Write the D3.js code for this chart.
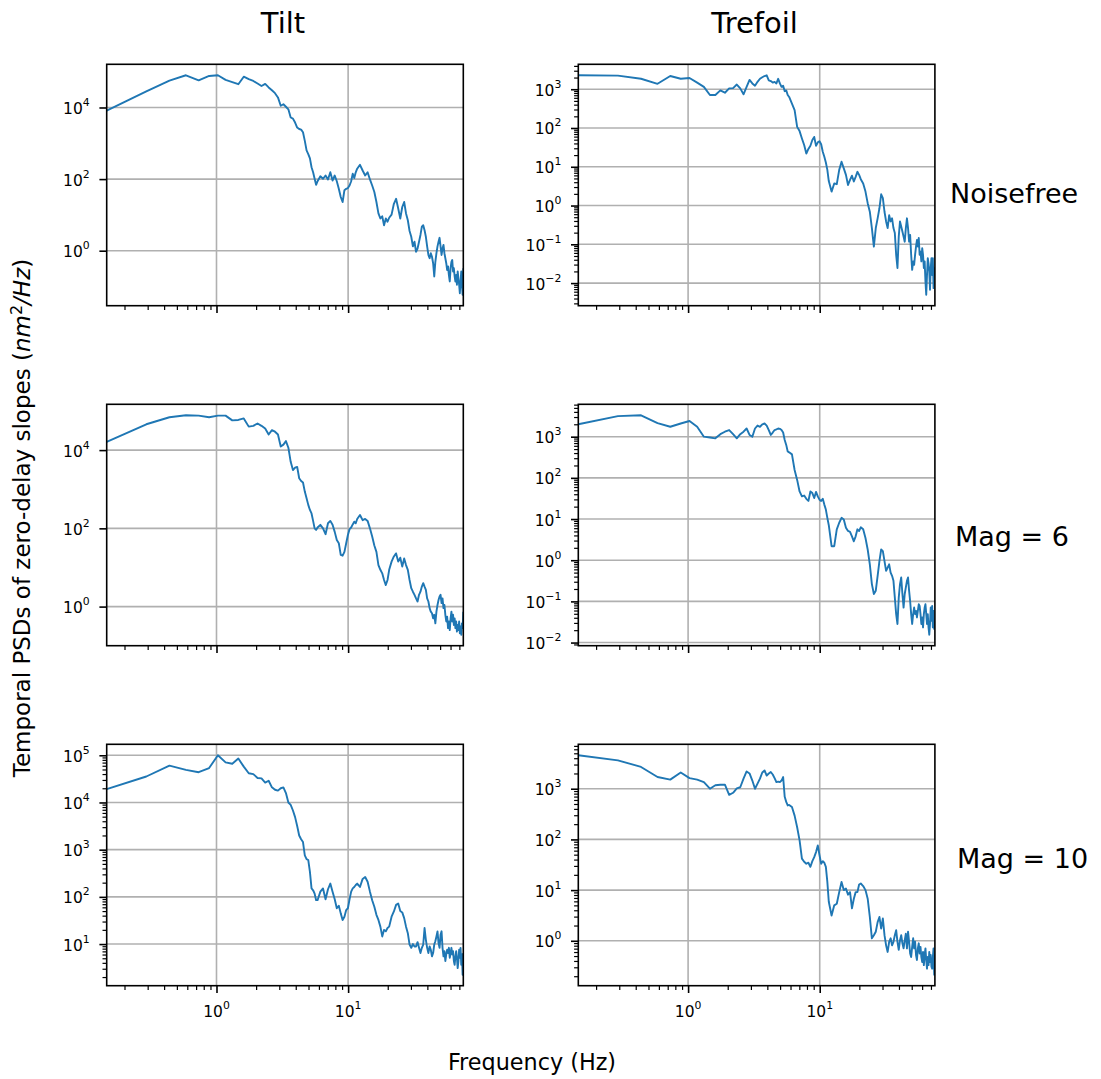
<!DOCTYPE html>
<html><head><meta charset="utf-8">
<script src="https://cdn.jsdelivr.net/npm/d3@7"></script>
<style>
body{margin:0;background:#fff}
svg{display:block}
text{font-family:"DejaVu Sans",sans-serif;fill:#000}
</style>
</head><body>
<svg id="chart" width="1101" height="1079"></svg>
<script>
// ---------------- data ----------------
const freqHz = [
0.1465,0.293,0.439,0.586,0.732,0.879,1.025,1.172,1.318,1.465,
1.611,1.758,1.904,2.051,2.197,2.344,2.490,2.637,2.783,2.930,
3.076,3.223,3.369,3.516,3.662,3.809,3.955,4.102,4.248,4.395,
4.541,4.688,4.834,4.980,5.127,5.273,5.420,5.566,5.713,5.859,
6.152,6.445,6.738,7.031,7.324,7.617,7.910,8.203,8.496,8.789,
9.082,9.375,9.668,9.961,10.254,10.547,10.840,11.133,11.426,11.719,
12.305,12.891,13.477,14.063,14.648,15.234,15.820,16.406,16.992,17.578,18.164,18.750,19.336,19.922,20.508,
21.387,22.266,23.145,24.023,24.902,25.781,26.660,27.539,28.418,29.297,
30.176,31.055,31.934,32.813,33.691,34.570,35.449,36.328,37.207,38.086,
38.965,39.844,40.723,41.602,42.480,43.359,44.238,45.117,45.996,46.875,
47.754,48.633,49.512,50.391,51.270,52.148,53.027,53.906,54.785,55.664,
56.543,57.422,58.301,59.180,60.059,60.938,61.816,62.695,63.574,64.453,
65.332,66.211,67.090,67.969,68.848,69.727,70.605,71.484,72.363,73.242,
74.121,75.0];

const tiltNoisefree = [
8130,28200,56200,79400,57500,75900,79400,58900,51300,44700,
72400,61700,55000,46800,39800,45700,36300,30200,25100,19100,
11200,12300,10500,8910,5250,4900,3800,2750,2510,2400,
2040,1170,631,501,380,214,155,102,69.2,87.1,
120,102,126,97.7,155,91.2,126,87.1,53.7,31.6,
22.9,49.0,53.7,56.2,66.1,87.1,141,107,155,195,
251,174,126,155,97.7,66.1,43.7,22.9,11.0,7.94,9.12,5.13,7.94,6.46,8.32,
10.2,20.4,28.2,15.1,7.94,16.6,22.9,11.0,7.08,3.55,
2.45,1.32,1.78,0.933,1.15,1.78,2.75,4.68,5.13,3.72,
2.45,1.32,0.759,0.617,0.851,0.676,0.447,0.191,0.49,0.851,
1.32,1.78,2.29,1.32,0.759,1.15,1.45,0.851,0.617,0.447,
0.288,0.363,0.209,0.138,0.324,0.49,0.55,0.263,0.324,0.191,
0.138,0.209,0.112,0.263,0.17,0.112,0.0646,0.138,0.263,0.112,
0.0589,0.324];

const trefoilNoisefree = [
2290,2240,1860,1380,2190,1860,1950,1480,1150,708,
708,933,813,1050,1070,1320,1050,741,1150,1740,
1410,1230,1550,1860,2040,2190,2290,1700,1620,1480,
1550,1410,1860,1410,1150,1230,891,933,708,631,
427,288,107,83.2,53.7,36.3,21.9,28.8,34.7,49.0,
58.9,34.7,42.7,45.7,38.0,24.5,18.2,12.9,8.32,4.27,
2.29,3.72,3.55,8.32,13.5,9.12,6.17,3.39,4.57,5.89,4.17,5.5,7.41,6.17,4.79,
3.72,2.29,1.15,0.692,0.263,0.0871,0.263,0.468,0.851,1.95,
1.55,0.692,0.389,0.263,0.562,0.389,0.468,0.263,0.195,0.0537,
0.0245,0.158,0.389,0.288,0.214,0.158,0.117,0.263,0.468,0.263,
0.117,0.174,0.0537,0.0219,0.0363,0.0295,0.0537,0.0871,0.129,0.0871,
0.145,0.0537,0.0646,0.0363,0.0794,0.0537,0.0245,0.0363,0.011,0.00501,
0.0162,0.0437,0.0324,0.02,0.00676,0.0245,0.0437,0.0162,0.0437,0.00741,
0.0245,0.0135];

const tiltMag6 = [
16200,45700,69200,77600,75900,69200,75900,75900,57500,58900,
64600,39800,41700,47900,41700,35500,25100,32400,29500,25100,
12300,13800,17000,11500,5010,3090,3550,3720,1910,1620,
1480,871,589,398,295,240,155,100,91.2,105,
123,100,70.8,135,155,123,81.3,50.1,41.7,20.9,
20.0,25.1,41.7,67.6,95.5,105,126,148,135,174,
219,162,174,155,100,61.7,36.3,25.1,11.5,8.71,7.08,4.79,3.55,4.79,8.71,
14.1,19.1,22.9,14.1,17.8,10.5,17.0,11.5,8.71,4.79,
2.95,2.4,2.0,1.62,1.35,2.0,2.4,3.24,3.98,3.24,
2.69,1.62,1.35,0.912,0.741,0.676,0.501,0.617,0.372,0.741,
1.1,1.48,1.82,2.0,1.23,1.62,0.912,1.1,0.617,0.417,
0.55,0.282,0.417,0.251,0.501,0.741,0.417,0.617,0.339,0.501,
0.282,0.417,0.229,0.339,0.251,0.417,0.209,0.309,0.191,0.372,
0.282,0.741];

const trefoilMag6 = [
2000,3160,3310,2140,1740,2090,2400,1740,1000,955,
912,1150,1320,1450,1150,912,1150,1320,1580,1100,
1000,1580,1860,1740,2000,2090,1860,1450,1100,1260,
1450,1510,1580,1550,1450,1260,832,631,437,417,
372,155,89.1,46.8,35.5,37.2,30.9,27.5,46.8,42.7,
32.4,45.7,35.5,29.5,27.5,30.9,22.4,17.0,10.7,7.08,
2.19,2.19,5.62,8.13,10.7,9.77,6.17,5.13,4.9,3.8,2.88,3.8,5.62,5.13,6.31,
5.62,3.47,1.82,0.794,0.263,0.151,0.182,0.417,0.955,1.82,
1.66,0.955,0.55,0.661,0.794,0.501,0.417,0.316,0.123,0.049,
0.0282,0.123,0.263,0.38,0.151,0.0708,0.151,0.219,0.316,0.38,
0.182,0.102,0.049,0.0282,0.049,0.0708,0.049,0.0589,0.0407,0.0589,
0.0851,0.0776,0.049,0.0282,0.0407,0.0234,0.049,0.0708,0.0851,0.049,
0.0282,0.049,0.0234,0.0155,0.0282,0.0708,0.0339,0.0776,0.0234,0.0589,
0.0214,0.0339];

const tiltMag10 = [
19100,35500,60300,49000,43700,53700,100000,70800,66100,85100,
57500,41700,39800,33100,32400,26300,28800,20900,18600,17800,
20000,20900,15800,10000,8910,6760,4900,3160,2000,1660,
1450,759,631,603,339,151,138,117,85.1,85.1,
129,151,89.1,145,191,129,89.1,57.5,64.6,44.7,
32.4,38.0,52.5,57.5,89.1,129,151,162,178,191,
162,240,263,209,129,85.1,61.7,41.7,32.4,23.4,14.5,20.0,18.6,21.9,23.4,
38.0,49.0,67.6,72.4,50.1,46.8,35.5,23.4,17.0,9.77,
8.32,10.0,8.91,8.91,11.0,8.32,6.46,8.32,9.77,21.9,
12.3,8.32,6.46,8.91,7.59,5.5,6.46,9.77,11.5,14.5,
18.6,10.5,8.32,15.8,18.6,8.32,5.5,7.08,4.37,6.03,
7.59,6.46,8.32,5.13,6.46,8.32,6.03,7.08,4.37,3.63,
5.5,7.08,5.13,3.09,4.37,7.59,5.13,8.32,3.63,6.03,
2.24,6.46];

const trefoilMag10 = [
4570,3630,2690,1700,1510,2090,1620,1510,1350,1000,
1170,1200,1200,759,832,1020,1070,1580,2190,2000,
1450,1000,1260,1580,2090,2290,1820,2000,2140,1910,
1620,1350,1380,1350,1450,1700,692,550,468,479,
437,295,174,95.5,41.7,36.3,33.1,34.7,28.8,37.2,
44.7,56.2,75.9,49.0,33.1,37.2,34.7,28.8,14.5,5.89,
3.16,5.01,5.37,9.12,14.5,10.0,10.7,8.13,9.12,4.37,6.76,9.12,9.12,12.9,13.5,
12.0,10.0,6.76,2.95,1.12,1.29,1.51,2.34,2.95,1.74,
2.75,1.29,0.813,0.603,0.955,1.12,0.813,0.955,1.29,1.62,
0.955,0.661,1.02,1.29,0.891,0.708,1.02,1.38,0.708,1.51,
0.955,0.562,0.479,0.759,1.12,0.708,0.955,0.525,0.417,0.708,
0.891,0.562,0.759,0.479,0.38,0.603,0.331,0.525,0.708,0.417,
0.282,0.479,0.331,0.603,0.38,0.525,0.309,0.282,0.479,0.708,
0.214,0.525];

const columnTitles = ["Tilt", "Trefoil"];
const rowLabels = ["Noisefree", "Mag = 6", "Mag = 10"];
const panelSeries = [[tiltNoisefree, trefoilNoisefree], [tiltMag6, trefoilMag6], [tiltMag10, trefoilMag10]];
const xMajorTicks = [1, 10];
const xTickExponents = ["0", "1"];
const xMinorTicks = [0.2,0.3,0.4,0.5,0.6,0.7,0.8,0.9,2,3,4,5,6,7,8,9,20,30,40,50,60,70];
const yTickExponents = [[[0,2,4],[-2,-1,0,1,2,3]], [[0,2,4],[-2,-1,0,1,2,3]], [[1,2,3,4,5],[0,1,2,3]]];

// ---------------- layout ----------------
const svg = d3.select("#chart");
const colLeft = [106.7, 578.3];
const rowTop = [64.3, 404.3, 744.3];
const W = 356.6, H = 241.4;
const lineColor = "#1f77b4";
const gridColor = "#b0b0b0";
const minus = "\u2212";

const xScaleBase = d3.scaleLog().domain(d3.extent(freqHz)).range([0, W]);

function supLabel(sel, exp, size) {
  sel.text("10");
  sel.append("tspan").attr("dy", -8).attr("font-size", size * 0.7)
     .text(String(exp).replace("-", minus));
}

let clipId = 0;
rowTop.forEach((top, r) => {
  colLeft.forEach((left, c) => {
    const values = panelSeries[r][c];
    const n = Math.min(values.length, freqHz.length);
    const pts = d3.range(n).map(i => [freqHz[i], values[i]]);
    const logs = pts.map(p => Math.log10(p[1]));
    const lo = d3.min(logs), hi = d3.max(logs), m = 0.05 * (hi - lo);
    const x = xScaleBase.copy();
    const y = d3.scaleLog().domain([Math.pow(10, lo - m), Math.pow(10, hi + m)]).range([H, 0]);
    const g = svg.append("g").attr("transform", `translate(${left},${top})`);
    const id = "clip" + (clipId++);
    g.append("clipPath").attr("id", id).append("rect").attr("width", W).attr("height", H);

    const majors = yTickExponents[r][c];
    const stride1 = majors.length > 1 && (majors[1] - majors[0]) === 1;

    // grid
    g.append("g").selectAll("line.gx").data(xMajorTicks).join("line")
      .attr("x1", d => x(d)).attr("x2", d => x(d)).attr("y1", 0).attr("y2", H)
      .attr("stroke", gridColor).attr("stroke-width", 1.6);
    g.append("g").selectAll("line.gy").data(majors).join("line")
      .attr("x1", 0).attr("x2", W).attr("y1", d => y(Math.pow(10, d))).attr("y2", d => y(Math.pow(10, d)))
      .attr("stroke", gridColor).attr("stroke-width", 1.6);

    // data line
    g.append("path").datum(pts).attr("clip-path", `url(#${id})`)
      .attr("fill", "none").attr("stroke", lineColor).attr("stroke-width", 1.9)
      .attr("stroke-linejoin", "round")
      .attr("d", d3.line().x(d => x(d[0])).y(d => y(d[1])));

    // x ticks (axis)
    const xMajorAxis = d3.axisBottom(x).tickValues(xMajorTicks).tickSize(7.3).tickFormat("");
    const xMinorAxis = d3.axisBottom(x).tickValues(xMinorTicks).tickSize(4.2).tickFormat("");
    const gxM = g.append("g").attr("transform", `translate(0,${H})`).call(xMajorAxis);
    const gxm = g.append("g").attr("transform", `translate(0,${H})`).call(xMinorAxis);
    [gxM, gxm].forEach((a, i) => {
      a.select(".domain").remove();
      a.selectAll("line").attr("stroke", "#000").attr("stroke-width", i === 0 ? 1.6 : 1.2);
    });

    // y ticks (axis)
    const yMajorVals = majors.map(e => Math.pow(10, e));
    const yMajorAxis = d3.axisLeft(y).tickValues(yMajorVals).tickSize(7.3).tickFormat("");
    const gyM = g.append("g").call(yMajorAxis);
    gyM.select(".domain").remove();
    gyM.selectAll("line").attr("stroke", "#000").attr("stroke-width", 1.6);
    if (stride1) {
      const [d0, d1] = y.domain();
      const minorVals = [];
      for (let e = Math.floor(Math.log10(d0)); e <= Math.ceil(Math.log10(d1)); e++) {
        for (let k = 2; k <= 9; k++) {
          const v = k * Math.pow(10, e);
          if (v >= d0 && v <= d1) minorVals.push(v);
        }
      }
      const gym = g.append("g").call(d3.axisLeft(y).tickValues(minorVals).tickSize(4.2).tickFormat(""));
      gym.select(".domain").remove();
      gym.selectAll("line").attr("stroke", "#000").attr("stroke-width", 1.2);
    }

    // y tick labels
    majors.forEach(e => {
      const t = g.append("text").attr("text-anchor", "end").attr("font-size", 15.5)
        .attr("x", -17).attr("y", y(Math.pow(10, e)) + 6.5);
      supLabel(t, e, 15.5);
    });

    // x tick labels on bottom row only
    if (r === rowTop.length - 1) {
      xMajorTicks.forEach((v, i) => {
        const t = g.append("text").attr("text-anchor", "middle").attr("font-size", 15.5)
          .attr("x", x(v)).attr("y", H + 31);
        supLabel(t, xTickExponents[i], 15.5);
      });
    }

    // frame
    g.append("rect").attr("width", W).attr("height", H).attr("fill", "none")
      .attr("stroke", "#000").attr("stroke-width", 1.6);
  });
});

// column titles
columnTitles.forEach((t, c) => {
  svg.append("text").attr("x", colLeft[c] + W / 2 - 2).attr("y", 33)
    .attr("text-anchor", "middle").attr("font-size", 29).text(t);
});

// row labels
const rowLabelX = [950, 955, 957];
const rowLabelY = [202.7, 546, 868];
rowLabels.forEach((t, r) => {
  svg.append("text").attr("x", rowLabelX[r]).attr("y", rowLabelY[r])
    .attr("font-size", 27).text(t);
});

// axis labels
svg.append("text").attr("x", 532).attr("y", 1070).attr("text-anchor", "middle")
  .attr("font-size", 22.3).text("Frequency (Hz)");

const yl = svg.append("text").attr("transform", "translate(30,518) rotate(-90)")
  .attr("text-anchor", "middle").attr("font-size", 23);
yl.append("tspan").text("Temporal PSDs of zero-delay slopes (");
yl.append("tspan").attr("font-style", "italic").text("nm");
yl.append("tspan").attr("dy", -8).attr("font-size", 16).text("2");
yl.append("tspan").attr("dy", 8).attr("font-style", "italic").text("/Hz");
yl.append("tspan").text(")");
</script>
</body></html>
